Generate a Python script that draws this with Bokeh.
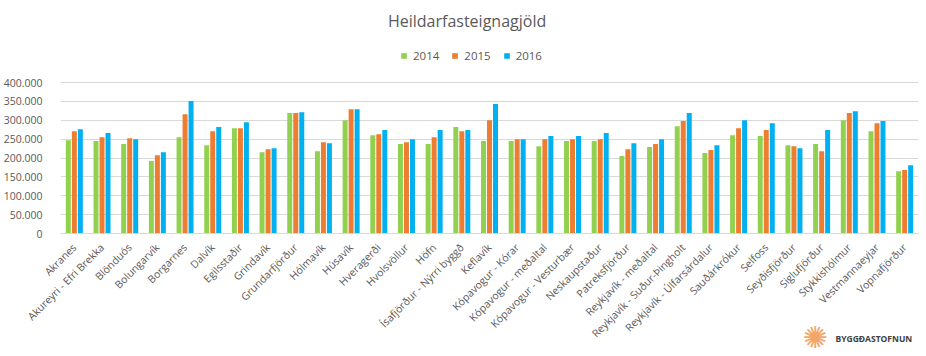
import math
from bokeh.plotting import figure
from bokeh.models import (ColumnDataSource, FactorRange, Range1d, FixedTicker,
                          Legend, LegendItem, Label, Title)
from bokeh.transform import dodge
from bokeh.embed import file_html
from bokeh.resources import INLINE

categories = ["Akranes", "Akureyri - Efri Brekka", "Blönduós", "Bolungarvík", "Borgarnes",
              "Dalvík", "Egilsstaðir", "Grindavík", "Grundarfjörður", "Hólmavík", "Húsavík",
              "Hveragerði", "Hvolsvöllur", "Höfn", "Ísafjörður - Nýrri byggð", "Keflavík",
              "Kópavogur - Kórar", "Kópavogur - meðaltal", "Kópavogur - Vesturbær",
              "Neskaupstaður", "Patreksfjörður", "Reykjavík - meðaltal",
              "Reykjavík - Suður-Þingholt", "Reykjavík - Úlfarsárdalur", "Sauðárkrókur",
              "Selfoss", "Seyðisfjörður", "Siglufjörður", "Stykkishólmur", "Vestmannaeyjar",
              "Vopnafjörður"]

v2014 = [247000, 245000, 237000, 192000, 255000, 234000, 279000, 215000, 319000, 218000,
         300000, 260000, 237000, 237000, 282000, 245000, 245000, 231000, 245000, 245000,
         205000, 229000, 284000, 213000, 260000, 258000, 234000, 237000, 300000, 271000,
         165000]
v2015 = [271000, 255000, 252000, 207000, 316000, 271000, 279000, 223000, 319000, 242000,
         329000, 263000, 242000, 255000, 271000, 300000, 250000, 250000, 250000, 250000,
         223000, 237000, 298000, 221000, 279000, 274000, 231000, 218000, 319000, 292000,
         168000]
v2016 = [276000, 266000, 250000, 215000, 351000, 282000, 295000, 226000, 321000, 239000,
         329000, 274000, 250000, 274000, 274000, 343000, 250000, 258000, 258000, 266000,
         239000, 250000, 319000, 234000, 300000, 292000, 226000, 274000, 324000, 298000,
         181000]

series_names = ["2014", "2015", "2016"]
y_ticks = [0, 50000, 100000, 150000, 200000, 250000, 300000, 350000, 400000]
y_tick_labels = ["0", "50.000", "100.000", "150.000", "200.000", "250.000", "300.000",
                 "350.000", "400.000"]

title_text = "Heildarfasteignagjöld"
logo_text = "BYGGÐASTOFNUN"
logo_mark = "✺"

colors = ["#92D050", "#ED7D31", "#00B0F0"]
grey = "#595959"
FONT = "Open Sans"

# layout: the frame reaches the top of the canvas so title and legend live inside it;
# the value axis top (400.000) sits at 82 px, the baseline at 233 px.
TOP_PX, ZERO_PX = 82, 233
y_end = 400000 * ZERO_PX / (ZERO_PX - TOP_PX)
px_to_val = lambda py: (ZERO_PX - py) / (ZERO_PX - TOP_PX) * 400000

source = ColumnDataSource(data=dict(cat=categories, y2014=v2014, y2015=v2015, y2016=v2016))

p = figure(width=926, height=356, x_range=FactorRange(*categories),
           y_range=Range1d(0, y_end), output_backend="svg", toolbar_location=None,
           min_border_left=59, min_border_right=8, min_border_top=0,
           min_border_bottom=356 - ZERO_PX)
p.title.visible = False
p.outline_line_color = None
p.background_fill_color = "white"
p.border_fill_color = "white"

offs = [-0.217, 0.0, 0.217]
renderers = []
for name, col, off in zip(["y2014", "y2015", "y2016"], colors, offs):
    r = p.vbar(x=dodge("cat", off, range=p.x_range), top=name, width=0.18,
               source=source, fill_color=col, line_color=None)
    renderers.append(r)

# axes
p.yaxis.ticker = FixedTicker(ticks=y_ticks)
p.yaxis.major_label_overrides = {t: l for t, l in zip(y_ticks, y_tick_labels)}
p.yaxis.axis_line_color = None
p.yaxis.major_tick_line_color = None
p.yaxis.minor_tick_line_color = None
p.yaxis.major_label_standoff = 12
p.yaxis.major_label_text_font = FONT
p.yaxis.major_label_text_font_size = "10.5px"
p.yaxis.major_label_text_color = grey

p.xaxis.axis_line_color = "#d9d9d9"
p.xaxis.major_tick_line_color = None
p.xaxis.minor_tick_line_color = None
p.xaxis.major_label_orientation = math.pi / 4
p.xaxis.major_label_standoff = 6
p.xaxis.major_label_text_font = FONT
p.xaxis.major_label_text_font_size = "10.5px"
p.xaxis.major_label_text_color = grey

p.xgrid.grid_line_color = None
p.ygrid.grid_line_color = "#d9d9d9"
p.ygrid.grid_line_width = 1

# series legend inside the (tall) frame
legend = Legend(items=[LegendItem(label=n, renderers=[r]) for n, r in zip(series_names, renderers)],
                orientation="horizontal", location=(340, ZERO_PX - 63),
                glyph_width=7, glyph_height=7, label_standoff=6, spacing=12,
                padding=0, margin=0, border_line_color=None, background_fill_alpha=0,
                label_text_font=FONT, label_text_font_size="11.5px",
                label_text_color=grey, label_height=14)
p.add_layout(legend, "center")

# chart title
p.add_layout(Label(x=14.69, y=px_to_val(20), text=title_text, text_align="center",
                   text_baseline="middle", text_font=FONT, text_font_size="16px",
                   text_color=grey))

# logo (below the category axis); negative standoffs pull it up beside the labels
p.add_layout(Title(text=logo_text, align="left", offset=775, vertical_align="top",
                   standoff=-32, text_font=FONT, text_font_size="8.5px",
                   text_font_style="bold", text_color="#404040"), "below")
p.add_layout(Title(text=logo_mark, align="left", offset=742, vertical_align="top",
                   standoff=-58, text_font="DejaVu Sans", text_font_size="30px",
                   text_font_style="normal", text_color="#F3A66A"), "below")

open("out.html", "w").write(file_html(p, INLINE))
